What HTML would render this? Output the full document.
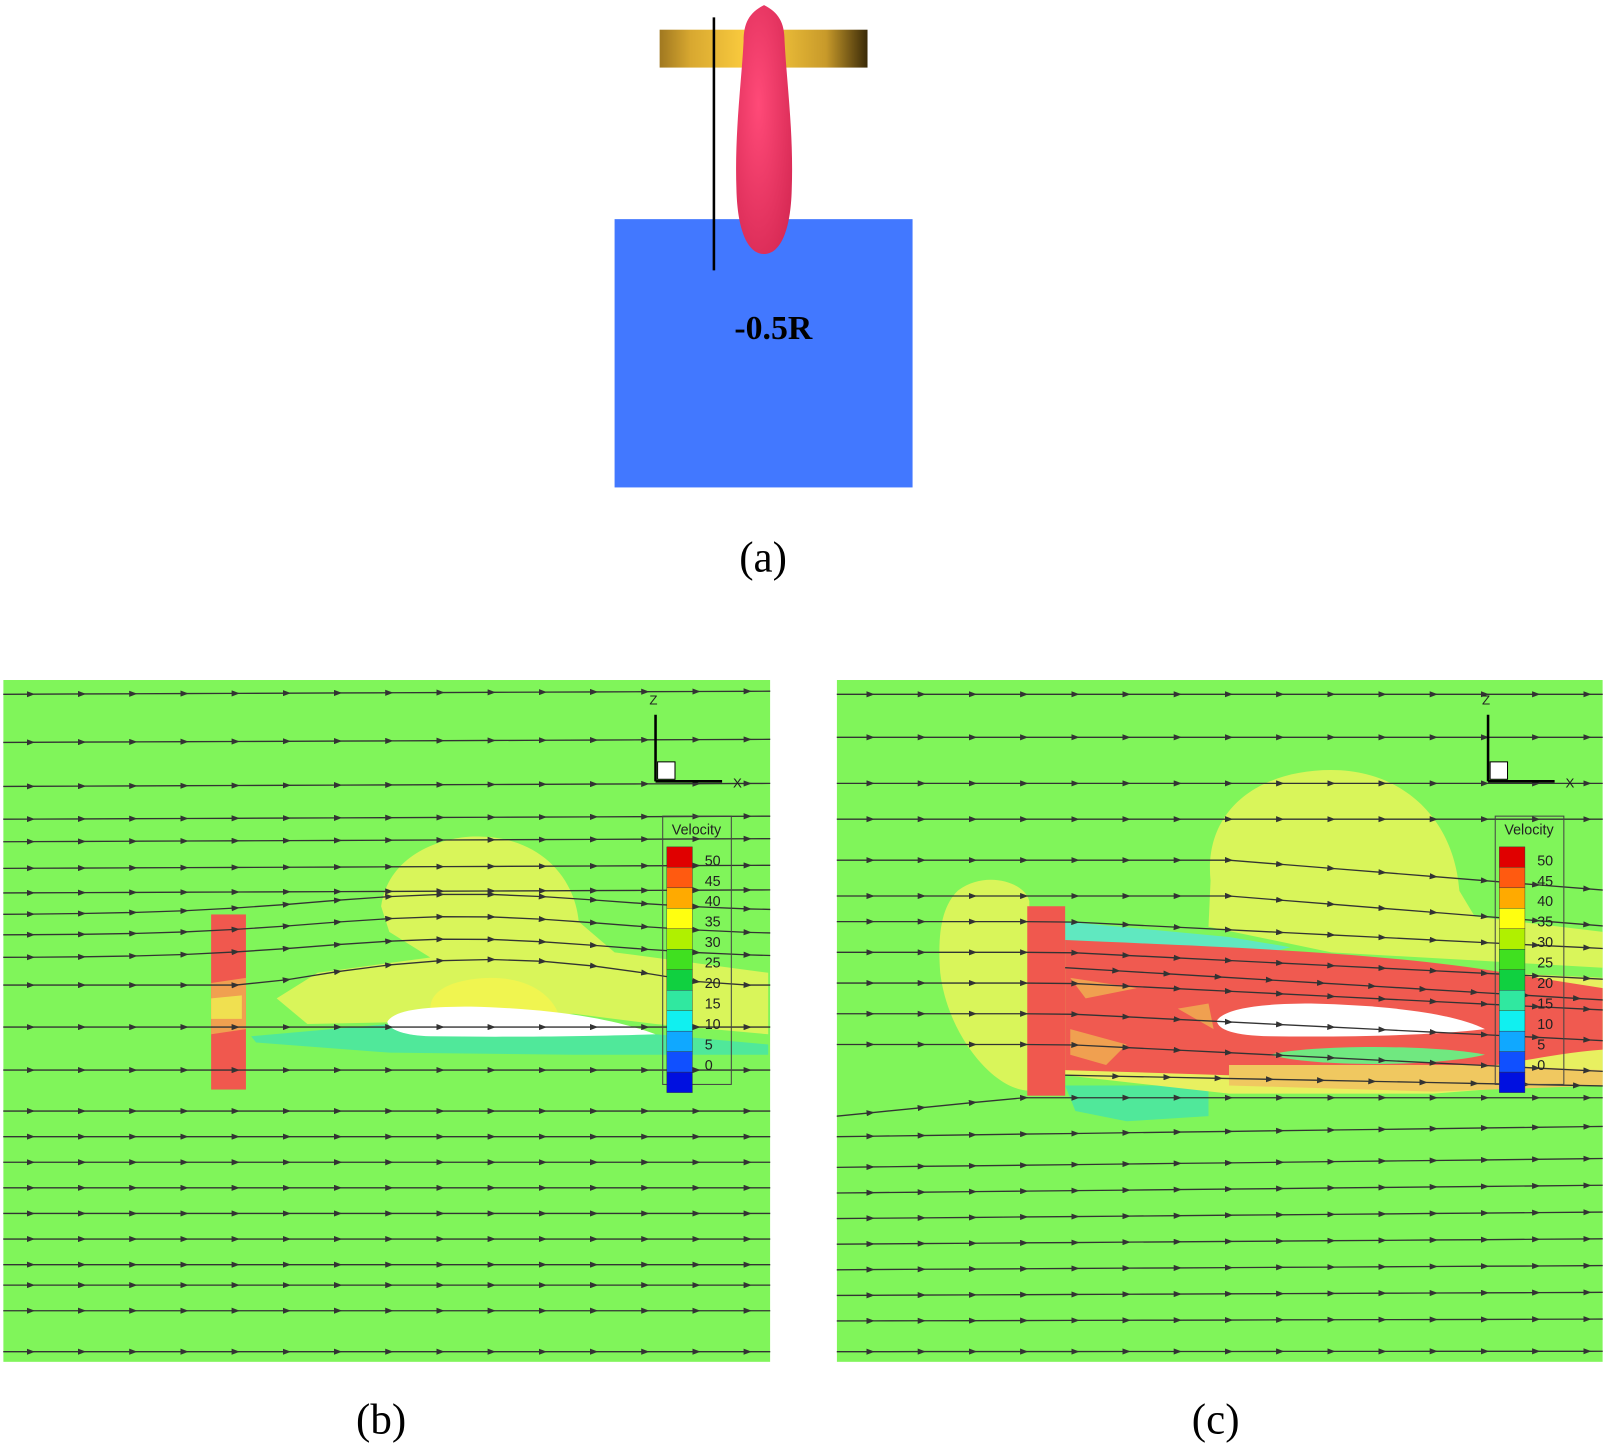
<!DOCTYPE html>
<html><head><meta charset="utf-8"><style>
html,body{margin:0;padding:0;background:#fff;width:1606px;height:1450px;overflow:hidden}
svg{display:block}
</style></head><body>
<svg id="s" width="1606" height="1450" viewBox="0 0 1568 1416" xmlns="http://www.w3.org/2000/svg">
<defs>
<linearGradient id="gold" x1="0" x2="1" y1="0" y2="0">
<stop offset="0" stop-color="#a07820"/><stop offset="0.15" stop-color="#d8a830"/><stop offset="0.45" stop-color="#ffd040"/><stop offset="0.8" stop-color="#c89a2a"/><stop offset="1" stop-color="#3a2a08"/>
</linearGradient>
<radialGradient id="pink" cx="0.4" cy="0.4" r="0.7"><stop offset="0" stop-color="#ff4a78"/><stop offset="1" stop-color="#d82a55"/></radialGradient>
<marker id="ar" markerWidth="8" markerHeight="6" refX="4" refY="3" orient="auto" markerUnits="userSpaceOnUse"><path d="M0,0 L8,3 L0,6 z" fill="#333"/></marker>
<clipPath id="cb"><rect x="3" y="664" width="749" height="666"/></clipPath>
<clipPath id="cc"><rect x="817" y="664" width="748" height="666"/></clipPath>
</defs>
<!-- (a) -->
<rect x="600" y="214" width="291" height="262" fill="#4278ff"/>
<rect x="644" y="29" width="203" height="37" fill="url(#gold)"/>
<path d="M746,5 C760,12 766,22 766,40 C768,80 775,130 773,185 C772,225 762,248 746,248 C730,248 720,225 719,185 C717,130 724,80 726,40 C726,22 732,12 746,5 Z" fill="url(#pink)"/>
<line x1="697" y1="17" x2="697" y2="264" stroke="#000" stroke-width="2.5"/>
<text x="755" y="331" font-family="Liberation Serif, serif" font-weight="bold" font-size="33" text-anchor="middle">-0.5R</text>
<text x="745" y="558" font-family="Liberation Serif, serif" font-size="42" text-anchor="middle">(a)</text>

<!-- (b) -->
<g clip-path="url(#cb)">
<rect x="3" y="664" width="749" height="666" fill="#80f55a"/>
<path d="M372,885 C380,830 440,815 470,817 C520,818 560,850 565,900 L600,930 L750,950 L750,1010 L640,1000 L560,990 L400,998 L300,1000 L270,975 L310,950 L420,935 L380,910 Z" fill="#d9f55a"/>
<path d="M420,985 C420,960 460,955 480,955 C520,955 540,975 545,990 Z" fill="#f0f550"/>
<path d="M245,1012 L380,1000 L640,1010 L750,1020 L750,1030 L560,1030 L380,1028 L250,1018 Z" fill="#50e89a"/>
<path d="M378,998 C385,985 420,983 460,983 C540,985 600,995 640,1010 C580,1012 500,1013 420,1012 C395,1011 380,1006 378,998 Z" fill="#fff"/>
<rect x="206" y="893" width="34" height="171" fill="#f0584e"/>
<path d="M206,960 L240,955 L240,1005 L206,1010 Z" fill="#f0a050"/>
<path d="M206,975 L236,972 L236,995 L206,995 Z" fill="#f0e050"/>
<g id="slb" fill="none" stroke="#333" stroke-width="1.3"></g>
</g>
<!-- (c) -->
<g clip-path="url(#cc)">
<rect x="817" y="664" width="748" height="666" fill="#80f55a"/>
<path d="M1182,860 C1175,790 1230,752 1300,752 C1370,752 1420,800 1425,870 L1440,895 L1565,910 L1565,945 L1300,930 L1180,905 Z" fill="#d9f55a"/>
<path d="M935,870 C960,850 1000,860 1005,880 L1005,1065 C970,1065 925,1010 918,950 C915,910 920,885 935,870 Z" fill="#d9f55a"/>
<path d="M1040,900 L1200,915 L1260,925 L1200,940 L1040,935 Z" fill="#60e8c0"/>
<path d="M1040,1060 L1180,1060 L1180,1090 L1100,1095 L1050,1085 Z" fill="#50e89a"/>
<path d="M1040,930 L1565,955 L1565,1055 L1400,1068 L1200,1068 L1040,1050 Z" fill="#e8f060"/>
<path d="M1040,918 C1200,925 1350,930 1470,950 L1565,965 L1565,1025 C1500,1030 1460,1045 1380,1048 L1200,1050 L1040,1045 Z" fill="#f05a50"/>
<path d="M1200,1040 L1450,1040 L1565,1045 L1565,1060 L1400,1066 L1200,1060 Z" fill="#f0c860"/>
<path d="M1240,1030 C1280,1020 1400,1020 1450,1030 C1400,1042 1280,1042 1240,1030 Z" fill="#70e880"/>
<path d="M1045,955 L1110,965 L1060,975 Z M1045,1005 L1100,1020 L1080,1040 L1045,1030 Z M1150,985 L1180,980 L1185,1005 Z" fill="#f0a050"/>
<path d="M1188,997 C1195,985 1230,980 1280,980 C1360,982 1420,990 1450,1005 C1400,1011 1320,1013 1240,1012 C1205,1011 1190,1006 1188,997 Z" fill="#fff"/>
<rect x="1003" y="885" width="37" height="185" fill="#f0584e"/>
<g id="slc" fill="none" stroke="#333" stroke-width="1.3"></g>
</g>
<g id="leg"></g>
<text x="372" y="1400" font-family="Liberation Serif, serif" font-size="42" text-anchor="middle">(b)</text>
<text x="1187" y="1400" font-family="Liberation Serif, serif" font-size="42" text-anchor="middle">(c)</text>
</svg>
<script>
var NS="http://www.w3.org/2000/svg";
function line(g,x0,x1,f){var pts=[];for(var x=x0;x<=x1+0.1;x+=50){pts.push(x.toFixed(1)+","+f(x).toFixed(1));}
var p=document.createElementNS(NS,"polyline");p.setAttribute("points",pts.join(" "));p.setAttribute("marker-mid","url(#ar)");g.appendChild(p);}
var gb=document.getElementById("slb");
var yb=[678,725,768,800,822,848,872,893,913,935,1003,1045,1085,1110,1135,1160,1185,1210,1235,1255,1280,1320];
yb.forEach(function(y){line(gb,-20,780,function(x){
var d=0; if(y>880&&y<1000){d=-Math.max(0,18*Math.exp(-Math.pow((x-450)/200,2)));}
return y+d+ (x-3)*0.004*(y<900? -1:0);});});
line(gb,-20,780,function(x){return 962- (x>250&&x<700? 25*Math.sin((x-250)/450*Math.PI):0);});
var gc=document.getElementById("slc");
var yc=[678,720,765,800,840,875,900,930,960,990,1020,1110,1140,1165,1190,1215,1240,1265,1290,1320];
yc.forEach(function(y){line(gc,800,1600,function(x){
var d=0;
if(y>=880&&y<=1030){ if(x>1040){d=(x-1040)*0.05;} }
if(y>=840&&y<880){ if(x>1200) d=(x-1200)*0.08;}
if(y>=1100){ d=-(x-817)*0.014*(1330-y)/230;}
return y+d;});});
line(gc,800,1600,function(x){return x<1000?1090-(x-817)*0.1:1072;});
line(gc,1040,1600,function(x){return 945+(x-1040)*0.06;});
line(gc,1040,1600,function(x){return 1050+(x-1040)*0.02;});
var lg=document.getElementById("leg");
var cols=["#e00000","#ff5a10","#ffaa00","#ffff10","#b0f000","#40e020","#10d040","#30e8a0","#10f0f0","#10a8ff","#1050ff","#0010e0"];
var labs=["50","45","40","35","30","25","20","15","10","5","0"];
function legend(ox){
var h='<line x1="'+(ox+640)+'" y1="698" x2="'+(ox+640)+'" y2="763" stroke="#000" stroke-width="2.5"/><line x1="'+(ox+640)+'" y1="763" x2="'+(ox+705)+'" y2="763" stroke="#000" stroke-width="2.5"/><rect x="'+(ox+642)+'" y="744" width="17" height="17" fill="#fff" stroke="#000" stroke-width="1"/>';
h+='<text x="'+(ox+638)+'" y="688" font-family="Liberation Sans,sans-serif" font-size="13" text-anchor="middle" fill="#222">Z</text><text x="'+(ox+720)+'" y="769" font-family="Liberation Sans,sans-serif" font-size="13" text-anchor="middle" fill="#222">X</text>';
h+='<rect x="'+(ox+647)+'" y="797" width="67" height="262" fill="none" stroke="#444" stroke-width="1"/>';
h+='<text x="'+(ox+680)+'" y="815" font-family="Liberation Sans,sans-serif" font-size="14" text-anchor="middle" fill="#222">Velocity</text>';
for(var i=0;i<12;i++){h+='<rect x="'+(ox+651)+'" y="'+(827+i*20)+'" width="25" height="20" fill="'+cols[i]+'" stroke="#333" stroke-width="0.4"/>';}
for(var j=0;j<11;j++){h+='<text x="'+(ox+688)+'" y="'+(845+j*20)+'" font-family="Liberation Sans,sans-serif" font-size="14" fill="#222">'+labs[j]+'</text>';}
return h;}
lg.innerHTML=legend(0)+legend(813);
</script>
</body></html>
